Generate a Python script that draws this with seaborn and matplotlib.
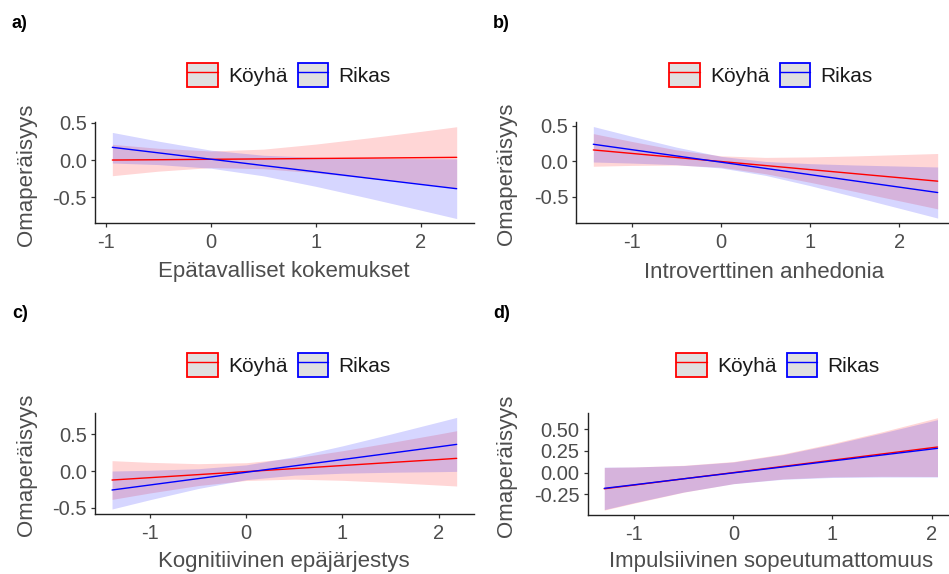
import numpy as np
import pandas as pd
import matplotlib
matplotlib.use("Agg")
import matplotlib.pyplot as plt
from matplotlib.patches import Patch
from matplotlib.lines import Line2D
import seaborn as sns

sns.set_theme(style="white")
plt.rcParams['font.family'] = ['Liberation Sans', 'DejaVu Sans']
plt.rcParams['axes.unicode_minus'] = False

groups = ["Köyhä", "Rikas"]
colors = {"Köyhä": "#ff0000", "Rikas": "#0000ff"}
ylabel = "Omaperäisyys"

# ---- panel a) Epätavalliset kokemukset ----
a_title = "Epätavalliset kokemukset"
a_x = [-0.94, -0.5, 0.0, 0.5, 1.0, 1.5, 2.0, 2.34]
a_poor_fit = [0.0, 0.004, 0.01, 0.015, 0.021, 0.026, 0.032, 0.036]
a_poor_lo = [-0.21, -0.149, -0.101, -0.116, -0.172, -0.244, -0.32, -0.374]
a_poor_hi = [0.21, 0.157, 0.121, 0.146, 0.214, 0.296, 0.384, 0.446]
a_rich_fit = [0.17, 0.096, 0.011, -0.074, -0.158, -0.243, -0.327, -0.384]
a_rich_lo = [-0.04, -0.061, -0.11, -0.212, -0.353, -0.51, -0.672, -0.784]
a_rich_hi = [0.37, 0.253, 0.132, 0.064, 0.037, 0.024, 0.018, 0.016]

# ---- panel b) Introverttinen anhedonia ----
b_title = "Introverttinen anhedonia"
b_x = [-1.43, -1.0, -0.5, 0.0, 0.5, 1.0, 1.5, 2.0, 2.43]
b_poor_fit = [0.16, 0.111, 0.054, -0.003, -0.06, -0.117, -0.174, -0.231, -0.28]
b_poor_lo = [-0.07, -0.058, -0.053, -0.083, -0.175, -0.296, -0.424, -0.556, -0.67]
b_poor_hi = [0.39, 0.28, 0.161, 0.077, 0.055, 0.062, 0.076, 0.094, 0.11]
b_rich_fit = [0.24, 0.164, 0.076, -0.012, -0.1, -0.188, -0.276, -0.364, -0.44]
b_rich_lo = [-0.01, -0.025, -0.048, -0.094, -0.198, -0.343, -0.5, -0.661, -0.80]
b_rich_hi = [0.49, 0.353, 0.2, 0.07, -0.002, -0.033, -0.052, -0.067, -0.08]

# ---- panel c) Kognitiivinen epäjärjestys ----
c_title = "Kognitiivinen epäjärjestys"
c_x = [-1.395, -1.0, -0.5, 0.0, 0.5, 1.0, 1.5, 2.0, 2.187]
c_poor_fit = [-0.122, -0.09, -0.049, -0.008, 0.033, 0.074, 0.115, 0.155, 0.171]
c_poor_lo = [-0.384, -0.297, -0.197, -0.128, -0.11, -0.126, -0.155, -0.19, -0.203]
c_poor_hi = [0.14, 0.117, 0.099, 0.112, 0.176, 0.274, 0.385, 0.5, 0.545]
c_rich_fit = [-0.257, -0.189, -0.103, -0.017, 0.069, 0.155, 0.241, 0.327, 0.36]
c_rich_lo = [-0.514, -0.388, -0.237, -0.117, -0.056, -0.03, -0.017, -0.009, -0.005]
c_rich_hi = [0.0, 0.01, 0.031, 0.083, 0.194, 0.34, 0.499, 0.663, 0.725]

# ---- panel d) Impulsiivinen sopeutumattomuus ----
d_title = "Impulsiivinen sopeutumattomuus"
d_x = [-1.303, -1.0, -0.5, 0.0, 0.5, 1.0, 1.5, 2.06]
d_poor_fit = [-0.185, -0.142, -0.07, 0.001, 0.072, 0.144, 0.215, 0.295]
d_poor_lo = [-0.43, -0.35, -0.224, -0.126, -0.072, -0.048, -0.042, -0.044]
d_poor_hi = [0.06, 0.066, 0.085, 0.128, 0.216, 0.336, 0.47, 0.632]
d_rich_fit = [-0.18, -0.139, -0.07, -0.002, 0.066, 0.135, 0.203, 0.28]
d_rich_lo = [-0.424, -0.344, -0.222, -0.127, -0.076, -0.055, -0.05, -0.05]
d_rich_hi = [0.064, 0.066, 0.082, 0.123, 0.208, 0.325, 0.456, 0.61]

x_ticks = [-1, 0, 1, 2]
x_ticklabels = ["-1", "0", "1", "2"]
y_ticks_1 = [-0.5, 0.0, 0.5]
y_ticklabels_1 = ["-0.5", "0.0", "0.5"]
y_ticks_d = [-0.25, 0.0, 0.25, 0.5]
y_ticklabels_d = ["-0.25", "0.00", "0.25", "0.50"]

W, H = 949, 574
fig = plt.figure(figsize=(W / 100, H / 100), dpi=100)

TXT = "#4d4d4d"


def px_axes(x0, x1, top, bottom):
    return fig.add_axes([x0 / W, 1 - bottom / H, (x1 - x0) / W, (bottom - top) / H])


panels = [
    dict(tag="a)", title=a_title, x=a_x,
         fit=(a_poor_fit, a_rich_fit), lo=(a_poor_lo, a_rich_lo), hi=(a_poor_hi, a_rich_hi),
         box=(94.8, 473.9, 122.1, 223.2), xlim=(-1.107, 2.504), ylim=(-0.846, 0.508),
         yt=(y_ticks_1, y_ticklabels_1),
         tagxy=(12, 28), ylab_x=26, xlab=(284, 272), leg=(289, 75)),
    dict(tag="b)", title=b_title, x=b_x,
         fit=(b_poor_fit, b_rich_fit), lo=(b_poor_lo, b_rich_lo), hi=(b_poor_hi, b_rich_hi),
         box=(576.1, 949, 121.9, 222.7), xlim=(-1.623, 2.557), ylim=(-0.865, 0.555),
         yt=(y_ticks_1, y_ticklabels_1),
         tagxy=(493, 28), ylab_x=506, xlab=(764, 272), leg=(771, 75)),
    dict(tag="c)", title=c_title, x=c_x,
         fit=(c_poor_fit, c_rich_fit), lo=(c_poor_lo, c_rich_lo), hi=(c_poor_hi, c_rich_hi),
         box=(94.8, 473.9, 412.8, 513.6), xlim=(-1.574, 2.366), ylim=(-0.576, 0.787),
         yt=(y_ticks_1, y_ticklabels_1),
         tagxy=(12, 318), ylab_x=26, xlab=(284, 562), leg=(289, 365)),
    dict(tag="d)", title=d_title, x=d_x,
         fit=(d_poor_fit, d_rich_fit), lo=(d_poor_lo, d_rich_lo), hi=(d_poor_hi, d_rich_hi),
         box=(587.6, 949, 413.1, 514.7), xlim=(-1.471, 2.176), ylim=(-0.483, 0.685),
         yt=(y_ticks_d, y_ticklabels_d),
         tagxy=(493, 318), ylab_x=506, xlab=(771.5, 562), leg=(778, 365)),
]

for p in panels:
    x0, x1, top, bottom = p["box"]
    ax = px_axes(x0, x1, top, bottom)
    rows = []
    for g, fit in zip(groups, p["fit"]):
        for xv, yv in zip(p["x"], fit):
            rows.append({"x": xv, "y": yv, "grp": g})
    df = pd.DataFrame(rows)
    # confidence bands
    for g, lo, hi in zip(groups, p["lo"], p["hi"]):
        ax.fill_between(p["x"], lo, hi, color=colors[g], alpha=0.16, linewidth=0)
    # red first, blue drawn on top (as in the reference)
    sns.lineplot(data=df, x="x", y="y", hue="grp", hue_order=groups,
                 palette=colors, linewidth=1.0, legend=False, ax=ax, sort=True)
    ax.set_xlim(*p["xlim"])
    ax.set_ylim(*p["ylim"])
    ax.set_xticks(x_ticks)
    ax.set_xticklabels(x_ticklabels)
    ax.set_yticks(p["yt"][0])
    ax.set_yticklabels(p["yt"][1])
    for s in ["top", "right"]:
        ax.spines[s].set_visible(False)
    for s in ["left", "bottom"]:
        ax.spines[s].set_color("#222222")
        ax.spines[s].set_linewidth(1.0)
    ax.tick_params(axis="both", which="major", length=3.2, width=0.9, color="#333333",
                   labelsize=14.5, labelcolor=TXT, direction="out",
                   bottom=True, left=True)
    ax.tick_params(axis="x", pad=4.0)
    ax.tick_params(axis="y", pad=2.5)
    ax.set_xlabel(p["title"], fontsize=16, color=TXT)
    ax.xaxis.set_label_coords(p["xlab"][0] / W, 1 - p["xlab"][1] / H, transform=fig.transFigure)
    ax.xaxis.label.set_va("center")
    ax.set_ylabel(ylabel, fontsize=16, color=TXT)
    ax.yaxis.set_label_coords(p["ylab_x"] / W, 1 - ((top + bottom) / 2 + 2) / H,
                              transform=fig.transFigure)
    ax.yaxis.label.set_va("center")
    ax.yaxis.label.set_ha("center")
    ax.grid(False)
    ax.set_facecolor("white")

    handles = [
        (Patch(facecolor="#e0e0e0", edgecolor=colors[g], linewidth=1.3),
         Line2D([], [], color=colors[g], linewidth=1.0))
        for g in groups
    ]
    leg = ax.legend(handles, groups, loc="center",
                    bbox_to_anchor=(p["leg"][0] / W, 1 - p["leg"][1] / H),
                    bbox_transform=fig.transFigure, ncol=2, frameon=False,
                    fontsize=15, handlelength=1.45, handleheight=1.45,
                    handletextpad=0.5, columnspacing=0.5, borderpad=0.0)
    for t in leg.get_texts():
        t.set_color("#1a1a1a")

    fig.text(p["tagxy"][0] / W, 1 - p["tagxy"][1] / H, p["tag"], fontsize=13,
             fontweight="bold", color="black", ha="left", va="baseline")

fig.savefig("out.png", dpi=100, facecolor="white")
